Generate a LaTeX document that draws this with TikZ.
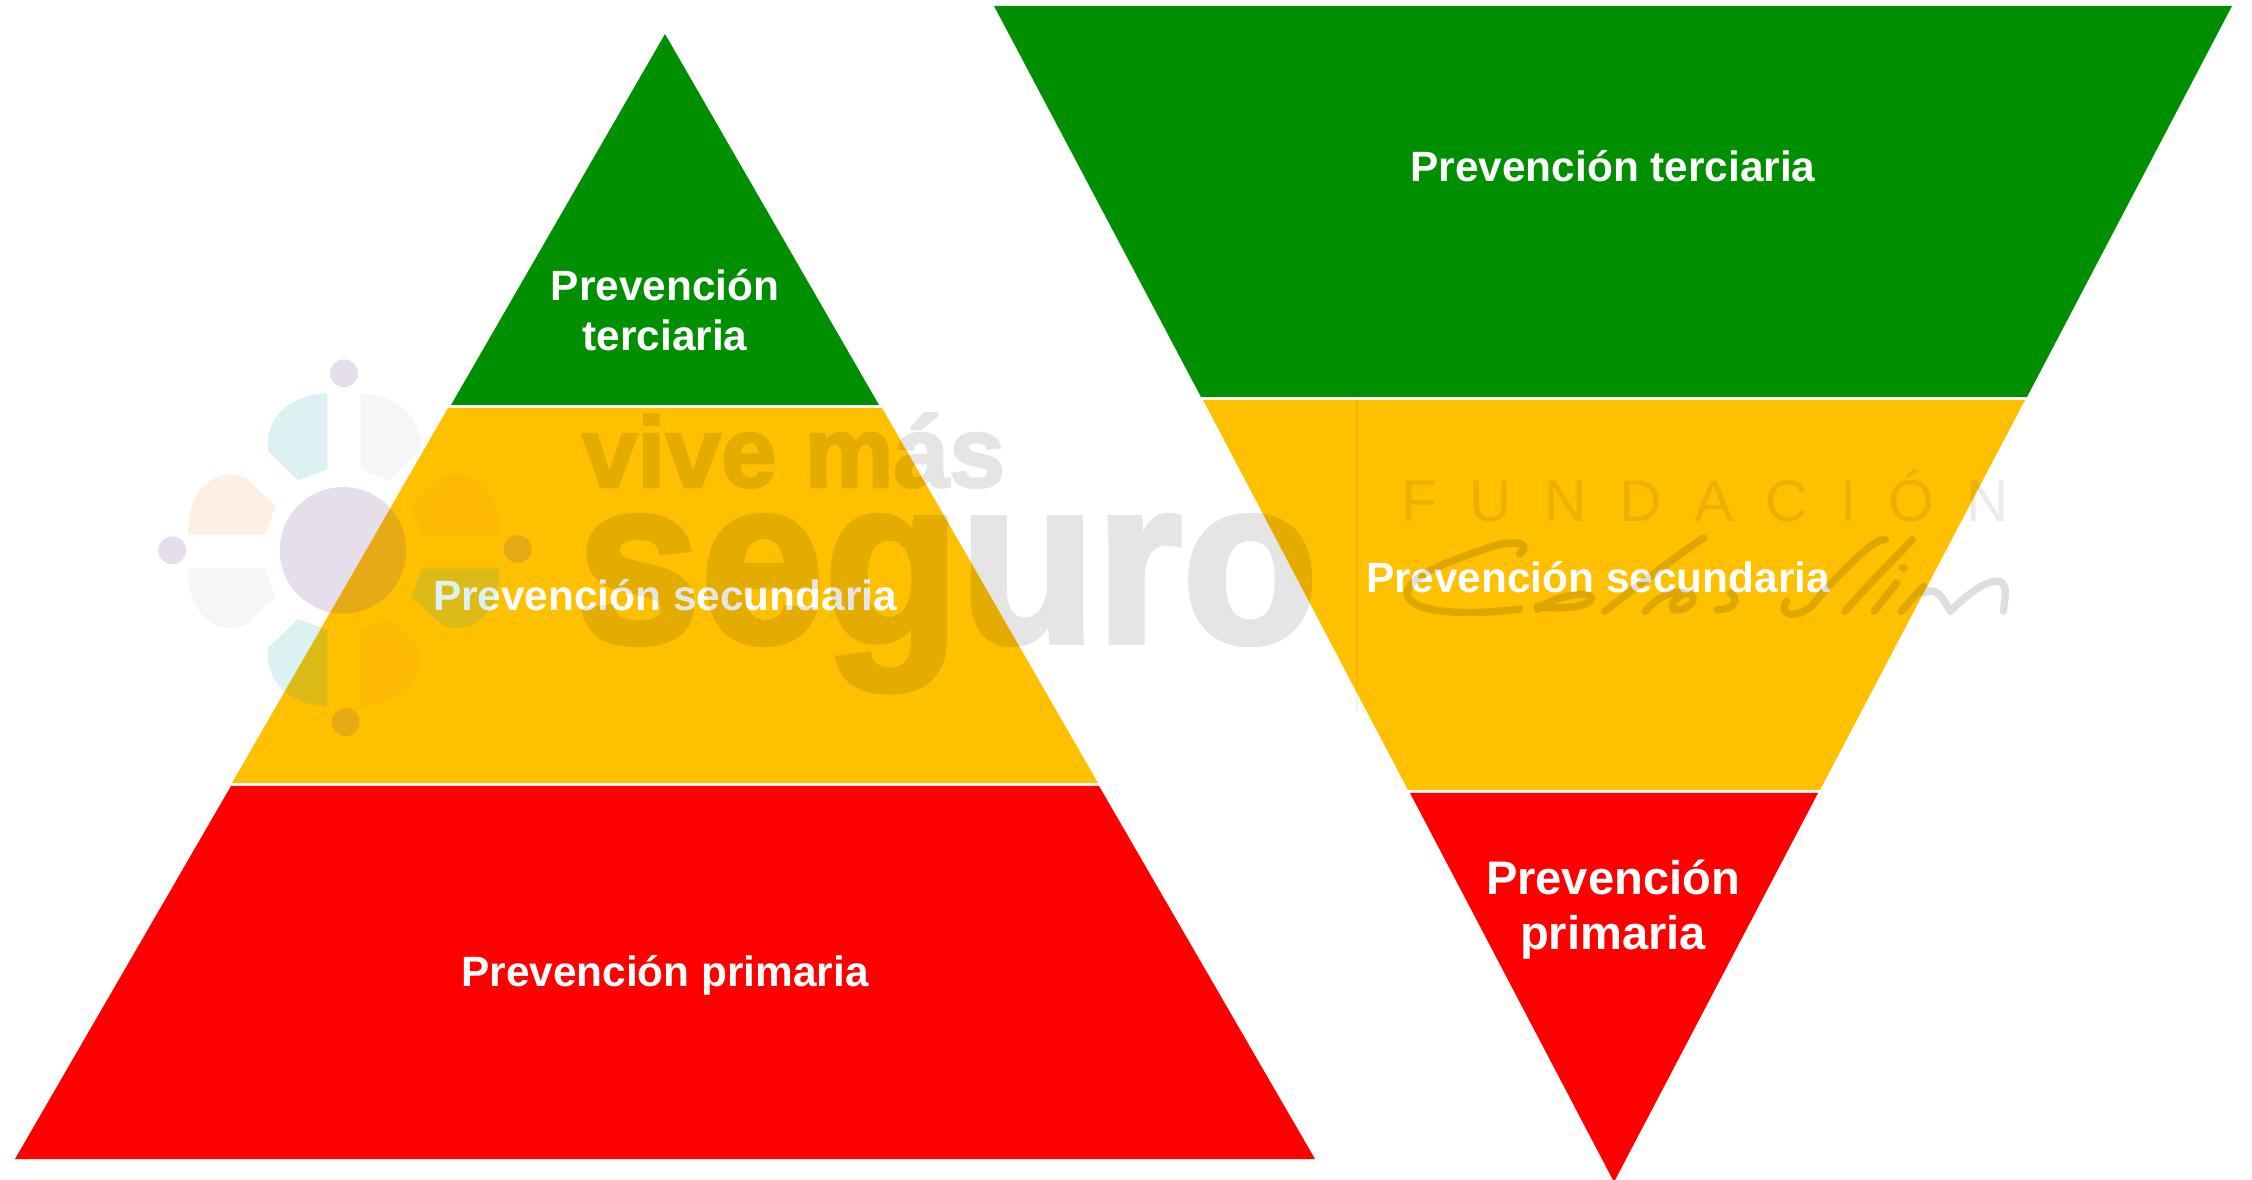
\documentclass[tikz,border=0pt]{standalone}
\usepackage{fontspec}
\setmainfont{Liberation Sans}
\newfontfamily\wmfont{Liberation Sans}[BoldFeatures={FakeBold=2.5}]
\definecolor{pgreen}{HTML}{008F00}
\definecolor{pyellow}{HTML}{FFC000}
\definecolor{pred}{HTML}{FF0000}
\definecolor{lpurple}{HTML}{6C4389}
\definecolor{lteal}{HTML}{16A2A2}
\definecolor{lorange}{HTML}{F08C20}
\definecolor{lgrey}{HTML}{5F7F9F}
\tikzset{
  band/.style={draw=none},
  label/.style={text=white,font=\fontsize{12.05}{14}\selectfont\bfseries,align=center,inner sep=0pt},
  biglabel/.style={text=white,font=\fontsize{13.4}{15.9}\selectfont\bfseries,align=center,inner sep=0pt},
  wm/.style={text=black,inner sep=0pt,anchor=base west},
  ppurple/.style={fill=lpurple,fill opacity=.17,draw=none},
  pteal/.style={fill=lteal,fill opacity=.15,draw=none},
  porange/.style={fill=lorange,fill opacity=.13,draw=none},
  pgrey/.style={fill=lgrey,fill opacity=.07,draw=none},
  sig/.style={draw=black,line width=2.1pt,line cap=round,line join=round},
}
\begin{document}
\begin{tikzpicture}[x=.01cm,y=-.01cm]
\useasboundingbox (0,0) rectangle (2252,1180);
% left pyramid
\fill[pgreen,band] (665,34) -- (879,405) -- (451,405) -- cycle;
\fill[pyellow,band] (448,408) -- (882,408) -- (1098,783) -- (232,783) -- cycle;
\fill[pred,band] (231,786) -- (1099,786) -- (1315,1159) -- (15,1159) -- cycle;
% right pyramid
\fill[pgreen,band] (994,6) -- (2232,6) -- (2027,397) -- (1201,397) -- cycle;
\fill[pyellow,band] (1203,400) -- (2025,400) -- (1820,790) -- (1408,790) -- cycle;
\fill[pred,band] (1410,793) -- (1818,793) -- (1614,1182) -- cycle;
% labels
\node[label] (lt) at (665,310) {Prevención\\[.02em]terciaria};
\node[label] (ls) at (665,595) {Prevención secundaria};
\node[label] (lp) at (665,975) {Prevención primaria};
\node[label] (rt) at (1613,166) {Prevención terciaria};
\node[label] (rs) at (1598,577) {Prevención secundaria};
\node[biglabel] (rp) at (1613,910) {Prevención\\[-.02em]primaria};
% watermark: logo
\begin{scope}[shift={(130,340)},x=.003333cm,y=-.003333cm]
  \fill[ppurple] (640,632) circle[radius=190];
  \fill[ppurple] (643,100) circle[radius=42];
  \fill[ppurple] (127,632) circle[radius=42];
  \fill[ppurple] (1165,628) circle[radius=42];
  \fill[ppurple] (648,1148) circle[radius=42];
  \fill[pteal] (593,160) -- (593,388) -- (505,422) -- (415,335) .. controls (405,230) and (480,165) .. (593,160) -- cycle;
  \fill[pgrey] (693,160) -- (693,388) -- (778,422) -- (870,335) .. controls (880,230) and (805,165) .. (693,160) -- cycle;
  \fill[porange] (175,585) -- (405,585) -- (438,500) -- (350,415) .. controls (260,375) and (170,450) .. (175,585) -- cycle;
  \fill[pgrey] (175,687) -- (405,687) -- (438,770) -- (350,855) .. controls (260,895) and (170,820) .. (175,687) -- cycle;
  \fill[pteal] (593,1100) -- (593,872) -- (505,838) -- (415,925) .. controls (405,1030) and (480,1095) .. (593,1100) -- cycle;
  \fill[porange] (693,1100) -- (693,872) -- (778,838) -- (870,925) .. controls (880,1030) and (805,1095) .. (693,1100) -- cycle;
  \fill[porange] (1108,585) -- (878,585) -- (848,500) -- (935,415) .. controls (1025,375) and (1115,450) .. (1108,585) -- cycle;
  \fill[pteal] (1108,687) -- (878,687) -- (845,770) -- (935,855) .. controls (1025,895) and (1115,820) .. (1108,687) -- cycle;
\end{scope}
% watermark: wordmark
\begin{scope}[transparency group,opacity=.1]
\node[wm] (vive) at (581,487) {\fontsize{28.5}{30}\wmfont\bfseries vive más};
\node[wm] (seguro) at (576,642) {\scalebox{.93}[.98]{\fontsize{68}{70}\wmfont\bfseries seguro}};
\end{scope}
\node[wm,opacity=.08] (fund) at (1401,522) {\fontsize{16.7}{18}\selectfont\addfontfeature{LetterSpace=55}FUNDACIÓN};
% watermark: faint rule and signature
\coordinate (ruleA) at (1357,400);
\coordinate (ruleB) at (1357,712);
\draw[black,opacity=.05,line width=.5pt] (ruleA) -- (ruleB);
\begin{scope}[shift={(1340,380)},x=.00449cm,y=-.003333cm,transparency group,opacity=.13]
  \draw[sig] (400,522) .. controls (430,490) and (390,480) .. (340,500) .. controls (250,540) and (150,590) .. (150,640) .. controls (150,700) and (280,710) .. (400,688);
  \draw[sig] (440,690) .. controls (470,650) and (560,630) .. (560,655) .. controls (560,685) and (470,690) .. (440,680);
  \draw[sig] (590,695) .. controls (680,600) and (780,500) .. (810,475);
  \draw[sig] (680,695) .. controls (710,650) and (740,630) .. (770,640) .. controls (810,650) and (770,700) .. (745,690) .. controls (730,680) and (750,650) .. (770,640);
  \draw[sig] (840,690) .. controls (880,690) and (890,660) .. (870,640);
  \draw[sig] (1215,480) .. controls (1190,470) and (1100,600) .. (1050,680) .. controls (1010,725) and (975,700) .. (995,665);
  \draw[sig] (1125,695) .. controls (1180,610) and (1240,530) .. (1275,480);
  \draw[sig] (1190,695) -- (1240,610);
  \fill[black] (1255,565) ellipse[x radius=10,y radius=12];
  \draw[sig] (1250,695) -- (1300,620);
  \draw[sig] (1300,640) .. controls (1330,620) and (1340,650) .. (1360,695);
  \draw[sig] (1360,695) .. controls (1400,640) and (1440,600) .. (1470,605) .. controls (1490,620) and (1480,660) .. (1478,695);
\end{scope}
\end{tikzpicture}
\end{document}
